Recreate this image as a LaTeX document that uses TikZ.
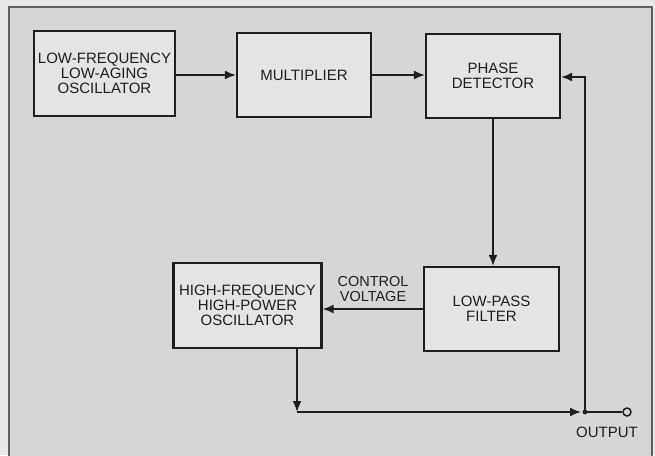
\documentclass[tikz,border=0pt]{standalone}
\usepackage{fontspec}
\setmainfont{Liberation Sans}
\usetikzlibrary{arrows.meta}
\usepackage{xcolor}
\definecolor{pagegray}{RGB}{233, 233, 233}
\definecolor{panelgray}{RGB}{214, 214, 214}
\definecolor{boxgray}{RGB}{228, 228, 228}
\definecolor{inkgray}{RGB}{30, 30, 30}
\definecolor{framegray}{RGB}{95, 95, 95}

\begin{document}
\begin{tikzpicture}[x=1pt, y=-1pt, >={Latex[length=11pt,width=9pt]},
    font=\fontsize{15}{15}\selectfont,
    block/.style={draw=inkgray, line width=2.2pt, fill=boxgray, align=center,
        inner sep=1pt, text=inkgray},
    conn/.style={draw=inkgray, line width=1.8pt}]

    % --- fondo ---
    \useasboundingbox (0,0) rectangle (655,455);
    \fill[pagegray] (0,0) rectangle (655,455);
    \draw[framegray, line width=1.5pt, fill=panelgray] (9,7) rectangle (652,470);

    % --- bloques ---
    \node[block, minimum width=141, minimum height=85] (lfo) at (104.5,73.5)
        {LOW-FREQUENCY\\LOW-AGING\\OSCILLATOR};
    \node[block, minimum width=134, minimum height=84] (mult) at (304,75)
        {MULTIPLIER};
    \node[block, minimum width=134, minimum height=84] (phase) at (493,76)
        {PHASE\\DETECTOR};
    \node[block, minimum width=148, minimum height=85] (hfo) at (247.5,305.5)
        {HIGH-FREQUENCY\\HIGH-POWER\\OSCILLATOR};
    \node[block, minimum width=135, minimum height=84] (lpf) at (491.5,309)
        {LOW-PASS\\FILTER};

    % --- puntos de salida ---
    \coordinate (hfoout) at (297,348);
    \coordinate (bend) at (297,412);
    \coordinate (jct) at (585,412);
    \coordinate (fbk) at (585,77);
    \node[draw=inkgray, line width=1.5pt, circle, fill=panelgray,
        minimum size=8, inner sep=0pt] (out) at (627,412) {};

    % --- conexiones ---
    \draw[conn, ->] (lfo.east |- mult.west) -- (mult.west);
    \draw[conn, ->] (mult.east) -- (mult.east -| phase.west);
    \draw[conn, ->] (phase.south) -- (phase.south |- lpf.north);
    \draw[conn, ->] (lpf.west |- 0,309) -- (hfo.east |- 0,309);
    \draw[conn, ->] (hfoout) -- (bend);
    \draw[conn, ->, shorten >=4pt] (bend) -- (jct);
    \draw[conn] (jct) -- (out);
    \draw[conn, ->] (jct) -- (fbk) -- (fbk -| phase.east);
    \fill[inkgray] (jct) circle (2.4pt);

    % --- etiquetas ---
    \node[align=center, text=inkgray, font=\fontsize{14.5}{15}\selectfont]
        (cv) at (373,289) {CONTROL\\VOLTAGE};
    \node[text=inkgray, font=\fontsize{15}{15}\selectfont]
        (outlbl) at (607,432) {OUTPUT};

\end{tikzpicture}
\end{document}
